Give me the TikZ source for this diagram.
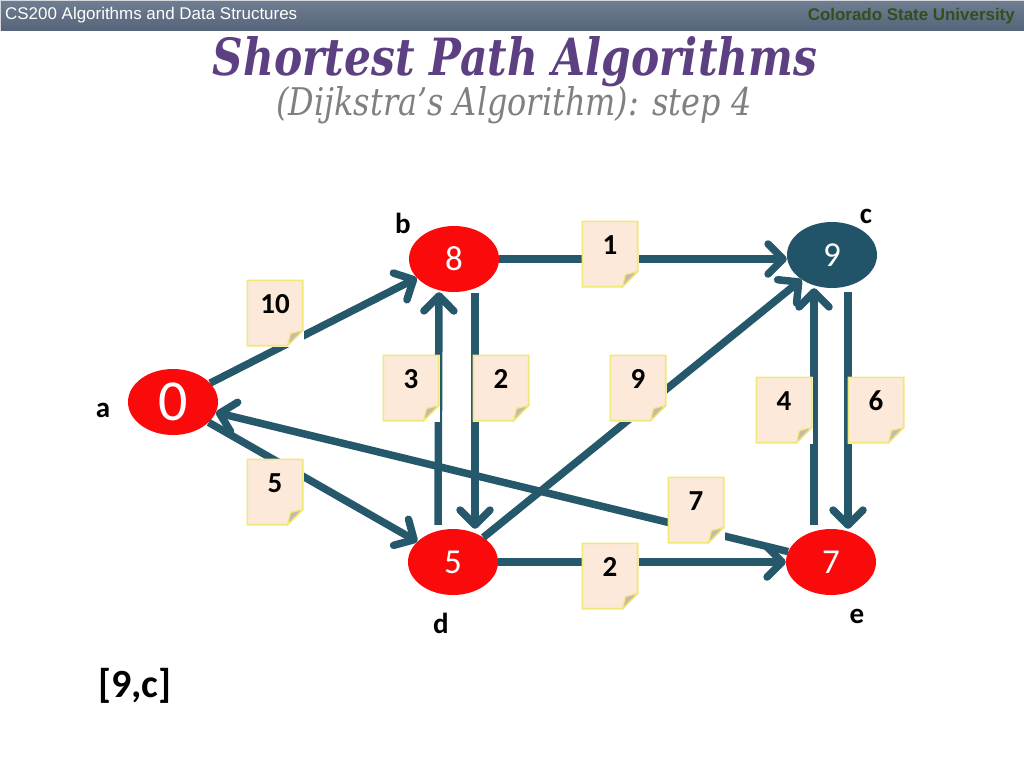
\documentclass[tikz,border=0pt]{standalone}
\usepackage{fontspec}
\setmainfont{Carlito}
\newfontfamily\hdrfont{Liberation Sans}
\newfontfamily\ttlfont{DejaVu Serif}
\usetikzlibrary{arrows.meta,shapes.geometric,calc}
\definecolor{edgecol}{RGB}{38,88,108}
\definecolor{darknode}{RGB}{33,84,104}
\definecolor{rednode}{RGB}{250,10,10}
\definecolor{notefill}{RGB}{252,233,217}
\definecolor{noteborder}{RGB}{240,232,120}
\definecolor{notefold}{RGB}{200,186,168}
\definecolor{ttlpurple}{RGB}{92,64,130}
\definecolor{subgray}{RGB}{128,128,128}
\definecolor{hdrtop}{RGB}{112,126,146}
\definecolor{hdrbot}{RGB}{86,100,122}
\definecolor{csugreen}{RGB}{52,78,30}
\tikzset{
  vert/.style={ellipse, minimum width=90pt, minimum height=66pt, inner sep=0pt,
    fill=rednode, text=white, font=\fontsize{35}{35}\selectfont},
  vdark/.style={vert, fill=darknode},
  vlabel/.style={anchor=base, font=\bfseries\fontsize{29}{29}\selectfont},
  edge/.style={draw=edgecol, line width=7.5pt,
    -{Straight Barb[length=15pt,width=30pt,round]}},
  notebox/.style={rectangle, inner sep=0pt, minimum width=57pt, minimum height=67pt,
    text height=33.5pt, text depth=33.5pt, fill=white,
    font=\bfseries\fontsize{29}{29}\selectfont,
    path picture={
      \fill[notefill, draw=noteborder, line width=1.6pt]
        ([shift={(0.8pt,-0.8pt)}]path picture bounding box.north west) --
        ([shift={(-0.8pt,-0.8pt)}]path picture bounding box.north east) --
        ([shift={(-0.8pt,16pt)}]path picture bounding box.south east) --
        ([shift={(-16pt,0.8pt)}]path picture bounding box.south east) --
        ([shift={(0.8pt,0.8pt)}]path picture bounding box.south west) -- cycle;
      \fill[notefold, draw=noteborder, line width=1.2pt]
        ([shift={(-0.8pt,16pt)}]path picture bounding box.south east) --
        ([shift={(-16pt,0.8pt)}]path picture bounding box.south east) --
        ([shift={(-13pt,13pt)}]path picture bounding box.south east) -- cycle;
    }},
}
\begin{document}
\begin{tikzpicture}[x=1pt,y=-1pt]
\useasboundingbox (0,0) rectangle (1024,768);
% header bar
\shade[top color=hdrtop, bottom color=hdrbot] (0,0) rectangle (1024,31);
\draw[white!70!hdrtop, line width=1pt] (0.5,31) -- (0.5,0.5) -- (1023.5,0.5);
\node[anchor=base west, inner sep=0pt, text=white] (hdrl) at (5,20)
  {\resizebox{292pt}{!}{\hdrfont\fontsize{15}{15}\selectfont CS200 Algorithms and Data Structures}};
\node[anchor=base east, inner sep=0pt, text=csugreen] (hdrr) at (1015,20)
  {\resizebox{207pt}{!}{\hdrfont\bfseries\fontsize{15}{15}\selectfont Colorado State University}};
% titles
\node[anchor=base, inner sep=0pt, text=ttlpurple] (title) at (515,76)
  {\resizebox{604pt}{39pt}{\ttlfont\bfseries\itshape\fontsize{50}{50}\selectfont Shortest Path Algorithms}};
\node[anchor=base, inner sep=0pt, text=subgray] (subtitle) at (514,115)
  {\resizebox{475pt}{29pt}{\ttlfont\itshape\fontsize{30}{30}\selectfont (Dijkstra’s Algorithm): step 4}};
% vertices
\node[vert, font=\fontsize{58}{58}\selectfont] (a) at (173,402) {0};
\node[vert] (b) at (454,259) {8};
\node[vdark] (c) at (832,255) {9};
\node[vert] (d) at (453,562) {5};
\node[vert] (e) at (831,562) {7};
% vertex labels
\node[vlabel] (la) at (103,417) {a};
\node[vlabel] (lb) at (403,233) {b};
\node[vlabel] (lc) at (866,223) {c};
\node[vlabel] (ld) at (441,633) {d};
\node[vlabel] (le) at (857,623) {e};
% edges
\draw[edge] (a) -- (b);
\draw[edge] (a) -- (d);
\draw[edge] ([shift={(-15pt,4pt)}]d.north) -- ([xshift=-15pt]b.south);
\draw[edge] ([shift={(21pt,-1pt)}]b.south) -- ([xshift=22pt]d.north);
\draw[edge] (b.east) -- (c.west |- b.east);
\draw[edge] (d) -- (c);
\draw[edge] ([shift={(-17pt,4pt)}]e.north) -- ([xshift=-18pt]c.south);
\draw[edge] ([shift={(16pt,-4pt)}]c.south) -- ([xshift=17pt]e.north);
\draw[edge] (d.east) -- (e.west);
\draw[edge] (e) -- (a);
% weights
\node[notebox] (wab) at (275,313) {10};
\node[notebox] (wad) at (275,492) {5};
\node[notebox] (wdb) at (411,388) {3};
\node[notebox] (wbd) at (501,388) {2};
\node[notebox] (wbc) at (610,254) {1};
\node[notebox] (wdc) at (638,388) {9};
\node[notebox] (wec) at (784,410) {4};
\node[notebox] (wce) at (876,410) {6};
\node[notebox] (wde) at (610,576) {2};
\node[notebox] (wea) at (696,510) {7};
% result
\node[anchor=base, font=\bfseries\fontsize{40}{40}\selectfont] (res) at (135,697) {[9,c]};
\end{tikzpicture}
\end{document}
